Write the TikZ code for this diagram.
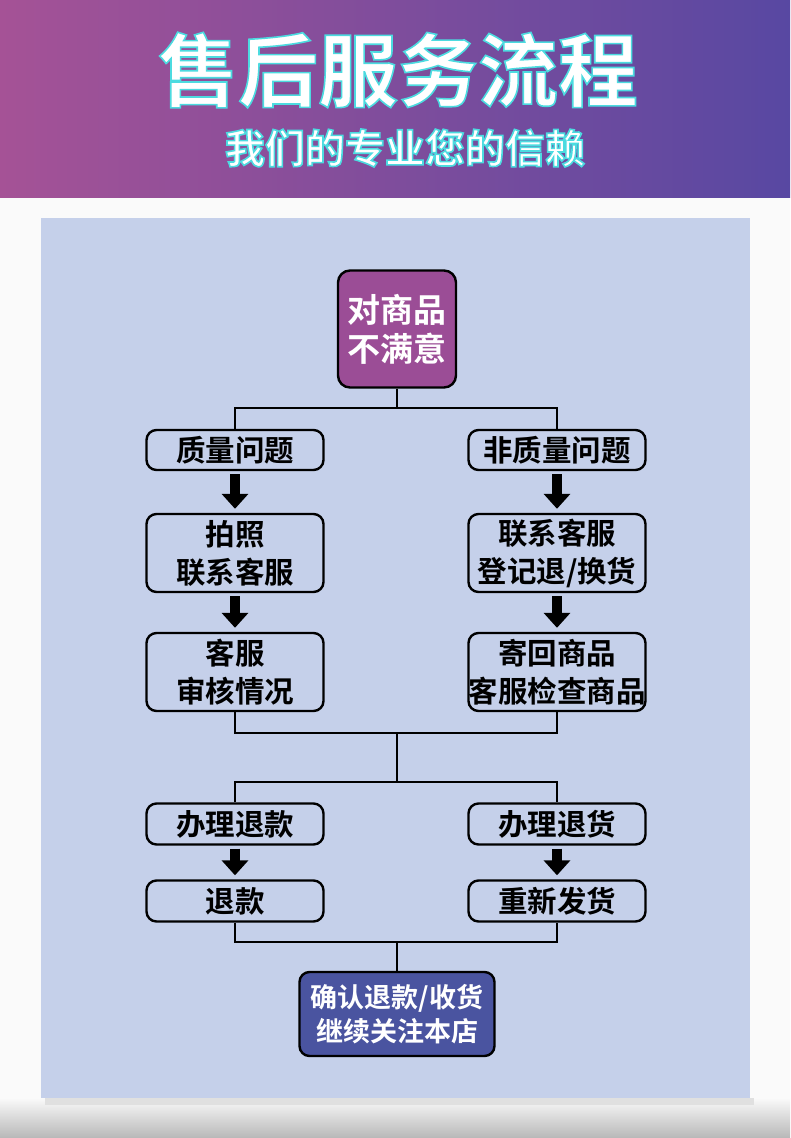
\documentclass[tikz,border=0pt]{standalone}
\usepackage{fontspec}
\usetikzlibrary{arrows.meta,calc}
\newfontfamily\cjk{Noto Sans CJK SC}[BoldFont={Noto Sans CJK SC Bold}]
\definecolor{panel}{RGB}{197,208,234}
\definecolor{toppurple}{RGB}{155,77,150}
\definecolor{endblue}{RGB}{74,84,160}
\definecolor{hdrleft}{RGB}{165,82,150}
\definecolor{hdrright}{RGB}{88,72,162}
\newcommand{\glowtext}[1]{\special{pdf:literal direct q 2 Tr 0.30 0.86 0.88 RG 1.6 w}#1\special{pdf:literal direct Q}}
\tikzset{
  box/.style={draw=black, line width=2.4pt, rounded corners=10pt, fill=panel,
    align=center, font=\cjk\bfseries\fontsize{29.5}{38}\selectfont, inner sep=0pt,
    minimum width=177pt, text=black},
  conn/.style={draw=black, line width=2.6pt},
  bigarrow/.style={draw=black, line width=10pt, -{Triangle[width=26pt,length=15pt]},
    shorten <=3pt, shorten >=4pt}
}
\begin{document}
\begin{tikzpicture}[x=1pt,y=-1pt]
\useasboundingbox (0,0) rectangle (790,1138);
% background
\fill[white!96!gray] (0,0) rectangle (790,1138);
\shade[left color=hdrleft, right color=hdrright] (0,0) rectangle (790,197);
\shade[top color=white!96!gray, bottom color=black!28] (0,1098) rectangle (790,1138);
\fill[black!12] (45,1098) rectangle (754,1105);
\fill[panel] (41,218) rectangle (750,1098);
% title
\node[text=white, font=\cjk\bfseries\fontsize{80}{84}\selectfont] (title) at (398,70) {\glowtext{售后服务流程}};
\node[text=white, font=\cjk\bfseries\fontsize{40}{44}\selectfont] (subtitle) at (405,148) {\glowtext{我们的专业您的信赖}};
% nodes
\node[box, fill=toppurple, text=white, minimum width=118pt, minimum height=117pt, rounded corners=12pt, font=\cjk\bfseries\fontsize{33}{39}\selectfont] (top) at (397,329) {对商品\\不满意};
\node[box, minimum height=40pt] (q1) at (235,450) {质量问题};
\node[box, minimum height=40pt] (q2) at (557,450) {非质量问题};
\node[box, minimum height=78pt] (b1) at (235,553) {拍照\\联系客服};
\node[box, minimum height=78pt] (b2) at (557,553) {联系客服\\登记退/换货};
\node[box, minimum height=78pt] (c1) at (235,672) {客服\\审核情况};
\node[box, minimum height=78pt] (c2) at (557,672) {寄回商品\\客服检查商品};
\node[box, minimum height=41pt] (d1) at (235,824) {办理退款};
\node[box, minimum height=41pt] (d2) at (557,824) {办理退货};
\node[box, minimum height=41pt] (e1) at (235,901) {退款};
\node[box, minimum height=41pt] (e2) at (557,901) {重新发货};
\node[box, fill=endblue, text=white, minimum width=195pt, minimum height=84pt, font=\cjk\bfseries\fontsize{27}{34}\selectfont] (f) at (397,1014) {确认退款/收货\\继续关注本店};
% connectors
\coordinate (s1) at (397,408);
\draw[conn] (top.south) -- (s1);
\draw[conn] (q1.north) |- (s1) -| (q2.north);
\coordinate (m1) at (397,733);
\coordinate (m2) at (397,782);
\draw[conn] (c1.south) |- (m1) -| (c2.south);
\draw[conn] (m1) -- (m2);
\draw[conn] (d1.north) |- (m2) -| (d2.north);
\coordinate (n1) at (397,942);
\draw[conn] (e1.south) |- (n1) -| (e2.south);
\draw[conn] (n1) -- (f.north);
% arrows
\draw[bigarrow] (q1.south) -- (b1.north);
\draw[bigarrow] (b1.south) -- (c1.north);
\draw[bigarrow] (q2.south) -- (b2.north);
\draw[bigarrow] (b2.south) -- (c2.north);
\draw[bigarrow] (d1.south) -- (e1.north);
\draw[bigarrow] (d2.south) -- (e2.north);
\end{tikzpicture}
\end{document}
